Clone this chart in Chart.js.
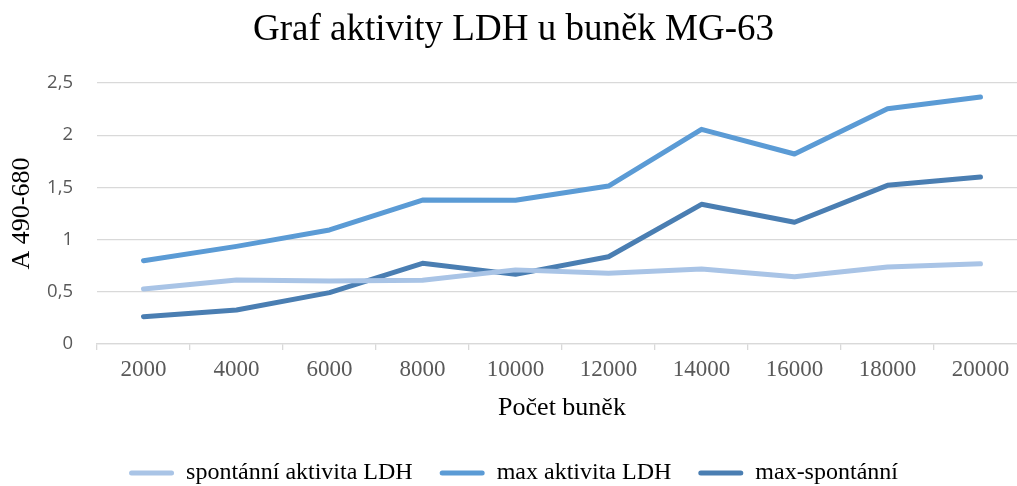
<!DOCTYPE html>
<html>
<head>
<meta charset="utf-8">
<script src="https://cdn.jsdelivr.net/npm/chart.js@4"></script>
<style>
  html, body { margin: 0; padding: 0; background: #fff; overflow: hidden; }
  #wrap { width: 1017px; height: 486px; overflow: hidden; position: relative; }
  #box { width: 1029px; height: 495px; position: absolute; left: 0; top: 0; }
</style>
</head>
<body>
<div id="wrap"><div id="box"><canvas id="c" width="1029" height="495"></canvas></div></div>
<script>
const chartTitle = 'Graf aktivity LDH u buněk MG-63';
const xAxisTitle = 'Počet buněk';
const yAxisTitle = 'A 490-680';
const categories = ['2000', '4000', '6000', '8000', '10000', '12000', '14000', '16000', '18000', '20000'];
const seriesNames = ['spontánní aktivita LDH', 'max aktivita LDH', 'max-spontánní'];
const spontanni = [0.527, 0.613, 0.603, 0.610, 0.710, 0.677, 0.718, 0.645, 0.737, 0.769];
const maxAktivita = [0.798, 0.935, 1.092, 1.379, 1.376, 1.513, 2.056, 1.820, 2.254, 2.366];
const maxMinusSpont = [0.262, 0.326, 0.492, 0.773, 0.667, 0.836, 1.338, 1.166, 1.520, 1.600];
const yTicks = { min: 0, max: 2.5, step: 0.5 };
const colors = ['#A9C4E6', '#5B9BD5', '#4A7EB2'];

const serif = 'Liberation Serif';
const ds = [spontanni, maxAktivita, maxMinusSpont].map((vals, i) => ({
  label: seriesNames[i],
  data: vals,
  borderColor: colors[i],
  backgroundColor: colors[i],
  borderWidth: 5,
  borderCapStyle: 'round',
  borderJoinStyle: 'round',
  pointRadius: 0,
  pointHoverRadius: 0,
  tension: 0,
  fill: false
}));

new Chart(document.getElementById('c'), {
  type: 'line',
  data: { labels: categories, datasets: ds },
  options: {
    responsive: false,
    animation: false,
    devicePixelRatio: 1,
    layout: { padding: { left: 0, right: 2, top: 0, bottom: 0 } },
    plugins: {
      tooltip: { enabled: false },
      title: {
        display: true,
        text: chartTitle,
        color: '#000000',
        font: { family: serif, size: 37, weight: 'normal' },
        padding: { top: 8, bottom: 30.6 }
      },
      legend: {
        position: 'bottom',
        labels: {
          color: '#000000',
          font: { family: serif, size: 24 },
          boxWidth: 45,
          boxHeight: 5,
          padding: 27,
          useBorderRadius: true,
          borderRadius: 2.5,
          generateLabels: (chart) => Chart.defaults.plugins.legend.labels.generateLabels(chart)
            .map(l => Object.assign(l, { lineWidth: 0, fillStyle: l.strokeStyle }))
        }
      }
    },
    scales: {
      x: {
        type: 'category',
        offset: true,
        afterFit: (s) => { s.height = 90; },
        grid: {
          offset: true,
          drawOnChartArea: false,
          drawTicks: true,
          tickLength: 6,
          color: '#d9d9d9',
          lineWidth: 1.3
        },
        border: { display: true, color: '#d9d9d9', width: 1.3 },
        ticks: {
          color: '#595959',
          font: { family: serif, size: 23 },
          padding: 6,
          maxRotation: 0,
          autoSkip: false
        },
        title: {
          display: true,
          text: xAxisTitle,
          color: '#000000',
          font: { family: serif, size: 26 },
          padding: { top: 0, bottom: 10.4 }
        }
      },
      y: {
        min: yTicks.min,
        max: yTicks.max,
        afterFit: (s) => { s.width = 97; },
        grid: {
          color: '#d9d9d9',
          lineWidth: 1.3,
          drawTicks: false
        },
        border: { display: false },
        ticks: {
          stepSize: yTicks.step,
          color: '#595959',
          font: { family: 'Open Sans', size: 18.5 },
          padding: 24,
          callback: (v) => String(v).replace('.', ',')
        },
        title: {
          display: true,
          text: yAxisTitle,
          color: '#000000',
          font: { family: serif, size: 26 },
          padding: { top: 6.4, bottom: 0 }
        }
      }
    }
  }
});
</script>
</body>
</html>
